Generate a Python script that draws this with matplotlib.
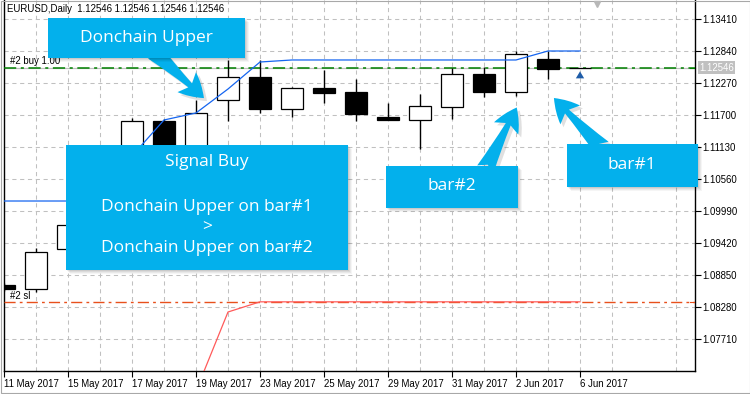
import numpy as np
import matplotlib.pyplot as plt
from matplotlib.patches import Rectangle, FancyArrowPatch
from matplotlib.transforms import blended_transform_factory

# EURUSD daily bars
dates = ['11 May 2017', '12 May 2017', '15 May 2017', '16 May 2017', '17 May 2017',
         '18 May 2017', '19 May 2017', '22 May 2017', '23 May 2017', '24 May 2017',
         '25 May 2017', '26 May 2017', '29 May 2017', '30 May 2017', '31 May 2017',
         '1 Jun 2017', '2 Jun 2017', '5 Jun 2017', '6 Jun 2017']
opens = [1.08672, 1.08601, 1.09313, 1.09750, 1.10950, 1.11593, 1.11050, 1.11967,
         1.12382, 1.11812, 1.12186, 1.12115, 1.11664, 1.11611, 1.11848, 1.12430,
         1.12115, 1.12698, 1.12546]
highs = [1.08700, 1.09331, 1.09800, 1.10560, 1.11647, 1.11629, 1.11967, 1.12680,
         1.12680, 1.12204, 1.12502, 1.12341, 1.11914, 1.12074, 1.12532, 1.12560,
         1.12845, 1.12845, 1.12546]
lows = [1.08570, 1.08547, 1.09250, 1.09650, 1.10850, 1.10950, 1.10980, 1.11599,
        1.11741, 1.11670, 1.11919, 1.11599, 1.11611, 1.11089, 1.11629, 1.12021,
        1.12044, 1.12336, 1.12546]
closes = [1.08601, 1.09260, 1.09741, 1.10400, 1.11593, 1.11050, 1.11741, 1.12377,
          1.11807, 1.12176, 1.12097, 1.11718, 1.11611, 1.11860, 1.12430, 1.12115,
          1.12787, 1.12525, 1.12546]

# Donchian channel
don_upper = [1.10168, 1.10168, 1.10168, 1.10540, 1.10970, 1.11611, 1.11736, 1.12163,
             1.12644, 1.12680, 1.12680, 1.12680, 1.12680, 1.12680, 1.12680, 1.12680,
             1.12680, 1.12840, 1.12840]
don_lower = [1.06200, 1.06200, 1.06200, 1.06200, 1.06200, 1.06200, 1.06784, 1.08191,
             1.08372, 1.08372, 1.08372, 1.08372, 1.08372, 1.08372, 1.08372, 1.08372,
             1.08372, 1.08372, 1.08372]

bid = 1.12546
sl_price = 1.08372
yticks = [1.07710, 1.08280, 1.08850, 1.09420, 1.09990, 1.10560,
          1.11130, 1.11700, 1.12270, 1.12840, 1.13410]

W, H = 750, 394
small = dict(family='Liberation Sans', size=6.9)
callout_font = dict(family='Open Sans', size=12.5, color='white')
sky = '#03b0ec'

fig = plt.figure(figsize=(W / 100, H / 100), dpi=100)
fig.patch.set_facecolor('white')
ax = fig.add_axes([4 / W, 23 / H, 691 / W, 371 / H])

x = np.arange(len(dates))
ax.set_xlim(0, 691 / 32)
ax.set_ylim(1.07140, 1.137484)

# grid
ax.set_xticks(x[::2])
ax.set_xticklabels([d for d in dates[::2]], ha='left', **small)
ax.set_xticks(np.arange(1, 22, 2), minor=True)
ax.set_yticks(yticks)
ax.set_yticklabels(['%.5f' % v for v in yticks], **small)
ax.yaxis.tick_right()
ax.tick_params(axis='x', which='major', direction='out', length=4, width=0.8, pad=2)
ax.tick_params(axis='x', which='minor', length=0)
ax.tick_params(axis='y', direction='out', length=4, width=0.8, pad=1.5)
for lab in ax.get_xticklabels():
    lab.set_x(lab.get_position()[0])
ax.grid(True, which='both', color='#c0c0c0', linestyle=(0, (4, 3.5)), linewidth=0.75)
ax.set_axisbelow(True)
for s in ['left', 'bottom', 'right']:
    ax.spines[s].set_linewidth(1.0)
ax.spines['top'].set_visible(False)

# bid and order lines
ax.axhline(bid, color='#c0c0c0', lw=0.9, zorder=2)
ax.axhline(bid, color='#008000', lw=1.1, linestyle=(0, (8, 3, 2, 3)), zorder=3)
ax.axhline(sl_price, color='#e8501c', lw=1.0, linestyle=(0, (8, 3, 2, 3)), zorder=3)
ax.text(0.2, bid + 0.0002, '#2 buy 1.00', va='bottom', ha='left', **small)
ax.text(0.2, sl_price + 0.0002, '#2 sl', va='bottom', ha='left', **small)

# candles
o = np.array(opens)
c = np.array(closes)
ax.vlines(x, lows, highs, color='black', lw=1.0, zorder=4)
face = ['white' if cc > oo else 'black' for oo, cc in zip(o, c)]
ax.bar(x, c - o, bottom=o, width=0.69, color=face, edgecolor='black',
       linewidth=0.9, zorder=5)

# donchian
ax.plot(x, don_upper, color='#1565f0', lw=0.9, zorder=6)
ax.plot(x, don_lower, color='#ff5a5a', lw=0.9, zorder=6)

# buy arrow under last bar
ax.annotate('', xy=(x[-1], bid - 0.0002), xytext=(x[-1], bid - 0.0012),
            arrowprops=dict(arrowstyle='simple,head_length=0.5,head_width=0.6,tail_width=0.25',
                            color='#1e5ca8', lw=0), zorder=7)

# price tag
tr = blended_transform_factory(ax.transAxes, ax.transData)
ax.text(1.006, bid, '%.5f' % bid, transform=tr, va='center', ha='left', color='white',
        bbox=dict(boxstyle='square,pad=0.15', fc='#c0c0c0', ec='none'), **small)
ax.plot([0.993, 1.0], [bid, bid], transform=tr, color='#008000', lw=0.8, clip_on=False)
ax.plot([0.993, 1.0], [sl_price, sl_price], transform=tr, color='#e8501c', lw=0.8, clip_on=False)

ax.text(0.004, 0.99, 'EURUSD,Daily  1.12546 1.12546 1.12546 1.12546',
        transform=ax.transAxes, va='top', ha='left', **small)

# overlay in pixel coordinates for the callouts
ov = fig.add_axes([0, 0, 1, 1], zorder=10)
ov.set_xlim(0, W)
ov.set_ylim(H, 0)
ov.axis('off')
ov.patch.set_alpha(0)

ov.plot(597, 4, marker='v', color='#b8b8b8', ms=5)
ov.add_patch(Rectangle((0.5, 0.5), W - 1, H - 2, fill=False, ec='#a8a8a8', lw=0.8))


def arrow(p0, p1):
    style = 'fancy,head_length=1.3,head_width=1.5,tail_width=1.0'
    sh = FancyArrowPatch((p0[0] + 3, p0[1] + 3), (p1[0] + 3, p1[1] + 3), arrowstyle=style,
                         mutation_scale=13, color='black', alpha=0.12, lw=0)
    ov.add_patch(sh)
    ov.add_patch(FancyArrowPatch(p0, p1, arrowstyle=style, mutation_scale=13,
                                 color=sky, lw=0))


def box(x0, y0, x1, y1):
    for k, a in [(5, 0.04), (4, 0.05), (3, 0.06), (2, 0.07)]:
        ov.add_patch(Rectangle((x0 + k - 1, y0 + k - 1), x1 - x0, y1 - y0,
                               color='black', alpha=a, lw=0))
    ov.add_patch(Rectangle((x0, y0), x1 - x0, y1 - y0, color=sky, lw=0))


arrow((152, 50), (206, 100))
box(48, 18, 245, 58)
ov.text(146.5, 38, 'Donchain Upper', ha='center', va='center', **callout_font)

box(66, 145, 348, 270)
cx = 207
ov.text(cx, 162, 'Signal Buy', ha='center', va='center', **callout_font)
ov.text(cx, 207, 'Donchain Upper on bar#1', ha='center', va='center', **callout_font)
ov.text(cx, 227, '>', ha='center', va='center', **callout_font)
ov.text(cx, 248, 'Donchain Upper on bar#2', ha='center', va='center', **callout_font)

arrow((484, 172), (518, 105))
box(386, 166, 518, 208)
ov.text(452, 186, 'bar#2', ha='center', va='center', **callout_font)

arrow((604, 150), (552, 96))
box(567, 144, 698, 187)
ov.text(632, 165, 'bar#1', ha='center', va='center', **callout_font)

fig.savefig('out.png', dpi=100)
